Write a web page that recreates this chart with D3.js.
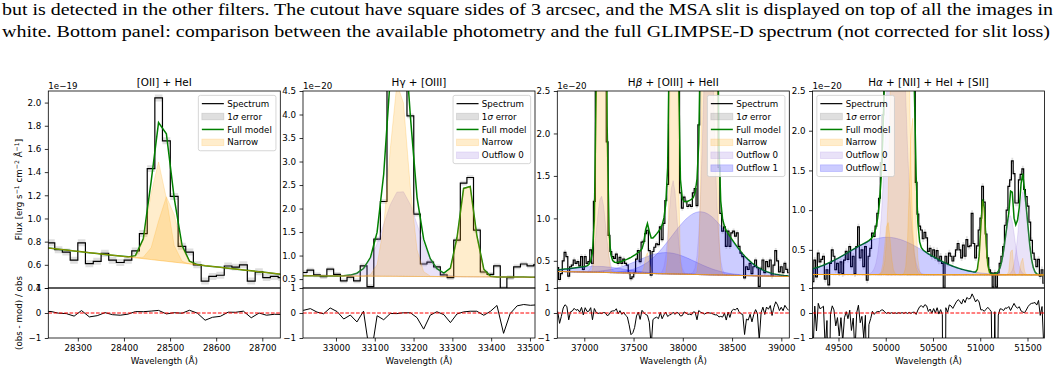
<!DOCTYPE html>
<html>
<head>
<meta charset="utf-8">
<script src="https://cdn.jsdelivr.net/npm/d3@7"></script>
<style>
  body { margin: 0; background: #fff; }
  svg { display: block; font-family: "DejaVu Sans", sans-serif; }
  .caption { font-family: "Liberation Serif", "Times New Roman", serif; font-size: 16.5px; }
</style>
</head>
<body>
<script>
// ---- caption above the figure
var captionLines = [
    "but is detected in the other filters. The cutout have square sides of 3 arcsec, and the MSA slit is displayed on top of all the images in",
    "white. Bottom panel: comparison between the available photometry and the full GLIMPSE-D spectrum (not corrected for slit loss)"
];

// ---- [OII] + HeI  (flux in 1e-19)
var oiiWave = [28225, 28242, 28258, 28275, 28292, 28308, 28325, 28342, 28359, 28375, 28392, 28409, 28425, 28442, 28459, 28475,
    28492, 28509, 28526, 28542, 28559, 28576, 28592, 28609, 28626, 28642, 28659, 28676, 28693, 28709, 28726, 28743];
var oiiFlux = [0.80, 0.79, 0.73, 0.71, 0.64, 0.79, 0.61, 0.63, 0.70, 0.64, 0.62, 0.64, 0.72, 0.87, 1.43, 2.04,
    1.67, 1.19, 0.76, 0.71, 0.60, 0.46, 0.50, 0.51, 0.59, 0.58, 0.60, 0.46, 0.54, 0.49, 0.50, 0.49];
var oiiCont = [[28236, 0.745], [28739, 0.52]];
var oiiNarrow = [[28475, 0.85, 18], [28494, 0.56, 19]];     // [centre, peak, sigma]
var oiiRange = [28236, 28739];
var oiiFluxRange = [0.4, 2.1];
var oiiFluxTicks = [0.4, 0.6, 0.8, 1.0, 1.2, 1.4, 1.6, 1.8, 2.0];
var oiiWaveTicks = [28300, 28400, 28500, 28600, 28700];

// ---- Hgamma + [OIII]  (flux in 1e-20)
var hgWave = [32900, 32917, 32934, 32951, 32968, 32985, 33003, 33020, 33037, 33054, 33071, 33089, 33106, 33123, 33140, 33157,
    33174, 33192, 33209, 33226, 33243, 33260, 33278, 33295, 33312, 33329, 33346, 33363, 33381, 33398, 33415, 33432,
    33449, 33467, 33484, 33501, 33518];
var hgFlux = [0.62, 0.64, 0.69, 0.59, 0.55, 0.71, 0.60, 0.46, 0.54, 0.46, 0.78, 0.34, 1.35, 2.15, 4.7, 6.3,
    6.1, 3.97, 1.88, 0.82, 0.86, 0.76, 0.59, 0.53, 1.33, 2.54, 2.66, 1.54, 0.65, 0.60, 0.78, 0.30,
    0.53, 0.76, 0.82, 0.78, 0.80];
var hgCont = [[32915, 0.57], [33513, 0.54]];
var hgNarrow = [[33162, 4.2, 23.5], [33338, 2.1, 19]];
var hgOutflow0 = [[33166, 1.83, 43]];
var hgRange = [32915, 33513];
var hgFluxRange = [0.31, 4.5];
var hgFluxTicks = [0.5, 1.0, 1.5, 2.0, 2.5, 3.0, 3.5, 4.0, 4.5];
var hgWaveTicks = [33000, 33100, 33200, 33300, 33400, 33500];

// ---- Hbeta + [OIII] + HeII  (flux in 1e-20)
var hbWave = [36730, 36749, 36767, 36786, 36804, 36823, 36842, 36860, 36879, 36897, 36916, 36935, 36953, 36972, 36990, 37009,
    37028, 37046, 37065, 37083, 37102, 37121, 37139, 37158, 37176, 37195, 37214, 37232, 37251, 37269, 37288, 37307,
    37325, 37344, 37362, 37381, 37400, 37418, 37437, 37455, 37474, 37493, 37511, 37530, 37548, 37567, 37586, 37604,
    37623, 37641, 37660, 37679, 37697, 37716, 37734, 37753, 37772, 37790, 37809, 37827, 37846, 37865, 37883, 37902,
    37920, 37939, 37958, 37976, 37995, 38013, 38032, 38051, 38069, 38088, 38106, 38125, 38144, 38162, 38181, 38199,
    38218, 38237, 38255, 38274, 38292, 38311, 38330, 38348, 38367, 38385, 38404, 38423, 38441, 38460, 38478, 38497,
    38516, 38534, 38553, 38571, 38590, 38609, 38627, 38646, 38664, 38683, 38702, 38720, 38739, 38757, 38776, 38795,
    38813, 38832, 38850, 38869, 38888, 38906, 38925, 38943, 38962, 38981, 38999, 39018, 39036, 39055, 39074];
var hbFlux = [0.42, 0.28, 0.35, 0.50, 0.60, 0.55, 0.32, 0.43, 0.45, 0.51, 0.47, 0.49, 0.44, 0.55, 0.40, 0.55,
    0.47, 0.49, 0.63, 0.47, 1.2, 2.6, 6.4, 12.6, 15.0, 11.9, 5.6, 1.9, 0.80, 0.61, 0.55, 0.53,
    0.58, 0.47, 0.54, 0.47, 0.52, 0.47, 0.45, 0.36, 0.29, 0.31, 0.36, 0.52, 0.62, 0.49, 0.72, 0.73,
    0.82, 0.86, 0.62, 0.33, 0.61, 0.66, 0.70, 0.69, 0.90, 0.75, 0.94, 1.21, 1.40, 3.0, 7.3, 13.8,
    12.2, 7.0, 2.6, 1.3, 1.12, 1.25, 1.20, 1.14, 1.16, 1.14, 1.30, 1.35, 1.15, 2.1, 3.4, 7.0,
    15, 29, 42, 44, 35, 20, 9, 3.8, 1.6, 1.06, 0.85, 0.90, 0.67, 0.85, 0.67, 0.83,
    0.85, 0.79, 0.83, 0.67, 0.59, 0.55, 0.30, 0.43, 0.40, 0.47, 0.35, 0.43, 0.51, 0.42, 0.20, 0.41,
    0.51, 0.36, 0.49, 0.43, 0.51, 0.32, 0.45, 0.62, 0.50, 0.37, 0.43, 0.36, 0.47, 0.40, 0.36];
var hbCont = [[36726, 0.375], [39081, 0.315]];
var hbNarrow = [[37175, 14, 26], [37637, 0.25, 20], [37910, 12, 22], [38269, 40, 33]];
var hbOutflow0 = [[37172, 0.9, 45], [37900, 1.1, 40], [38262, 3.5, 50]];
var hbOutflow1 = [[37150, 0.07, 260], [37835, 0.25, 290], [38180, 0.74, 290]];
var hbRange = [36726, 39081];
var hbFluxRange = [0.18, 2.5];
var hbFluxTicks = [0.5, 1.0, 1.5, 2.0, 2.5];
var hbWaveTicks = [37000, 37500, 38000, 38500, 39000];

// ---- Halpha + [NII] + HeI + [SII]  (flux in 1e-20)
var haWave = [49230, 49249, 49267, 49286, 49304, 49323, 49341, 49360, 49378, 49397, 49415, 49434, 49452, 49471, 49489, 49508,
    49526, 49545, 49563, 49582, 49600, 49619, 49637, 49656, 49674, 49693, 49711, 49730, 49748, 49767, 49785, 49804,
    49822, 49841, 49859, 49878, 49896, 49915, 49933, 49952, 49970, 49989, 50007, 50026, 50044, 50063, 50081, 50100,
    50118, 50137, 50155, 50174, 50192, 50211, 50229, 50248, 50266, 50285, 50303, 50322, 50340, 50359, 50377, 50396,
    50414, 50433, 50451, 50470, 50488, 50507, 50525, 50544, 50562, 50581, 50599, 50618, 50636, 50655, 50673, 50692,
    50710, 50729, 50747, 50766, 50784, 50803, 50821, 50840, 50858, 50877, 50895, 50914, 50932, 50951, 50969, 50988,
    51006, 51025, 51043, 51062, 51080, 51099, 51117, 51136, 51154, 51173, 51191, 51210, 51228, 51247, 51265, 51284,
    51302, 51321, 51339, 51358, 51376, 51395, 51413, 51432, 51450, 51469, 51487, 51506, 51524, 51543, 51561, 51580,
    51598, 51617, 51635, 51654, 51672];
var haFlux = [0.10, 0.37, 0.16, 0.46, 0.35, 0.38, 0.42, 0.13, 0.25, 0.06, 0.33, 0.50, 0.42, 0.25, 0.33, 0.21,
    0.35, 0.20, 0.37, 0.48, 0.38, 0.54, 0.29, 0.42, 0.20, 0.54, 0.79, 0.40, 0.50, 0.29, 0.54, 0.12,
    0.42, 0.52, 0.71, 0.67, 0.80, 0.96, 1.15, 1.60, 2.2, 2.9, 3.8, 5.3, 6.6, 9.0, 11.4, 14.8,
    17.1, 19.2, 18.6, 17.2, 13.7, 10.6, 7.3, 5.6, 4.4, 3.7, 2.6, 1.35, 0.95, 0.80, 0.75, 0.64,
    0.72, 0.65, 0.48, 0.52, 0.42, 0.50, 0.40, 0.49, 0.36, 0.42, 0.33, 0.02, 0.42, 0.33, 0.46, 0.42,
    0.36, 0.42, 0.50, 0.58, 0.50, 0.40, 0.56, 0.42, 0.63, 0.54, 0.55, 0.96, 0.58, 0.40, 0.55, 0.75,
    0.90, 1.30, 1.10, 0.70, 0.40, 0.25, 0.21, 0.03, 0.21, 0.03, 0.21, 0.33, 0.42, 0.54, 0.81, 1.00,
    1.30, 1.38, 1.62, 1.46, 1.09, 1.09, 1.38, 1.45, 1.52, 1.26, 1.17, 1.05, 0.85, 0.62, 0.46, 0.38,
    0.29, 0.38, 0.17, 0.25, 0.08];
var haCont = [[49225, 0.19], [51680, 0.185]];
var haNarrow = [[50020, 0.67, 28], [50150, 14, 54], [50280, 2.0, 28], [51030, 0.95, 24], [51331, 0.37, 14], [51444, 0.23, 14]];
var haOutflow0 = [[50110, 5.0, 80], [51315, 0.75, 50], [51455, 1.05, 48]];
var haOutflow1 = [[50015, 0.47, 404]];
var haRange = [49225, 51680];
var haFluxRange = [0.02, 2.5];
var haFluxTicks = [0.5, 1.0, 1.5, 2.0, 2.5];
var haWaveTicks = [49500, 50000, 50500, 51000, 51500];

var errorLevels = [0.03, 0.05, 0.03, 0.04];
var residTicks = [-1, 0, 1];

// ---- layout
var width = 1056, height = 373;
var panelLeft = [48.3, 303, 557.3, 812.5], panelW = 232;
var yTop = 91, yMid = 288, yBot = 338;
var fs = 8.7;

var svg = d3.select("body").append("svg").attr("width", width).attr("height", height);
var defs = svg.append("defs");

svg.selectAll("text.caption")
    .data(captionLines)
    .enter().append("text")
    .attr("class", "caption")
    .attr("x", 2)
    .attr("y", function(d, i) { return 15 + i * 21.5; })
    .attr("textLength", function(d, i) { return i === 0 ? 1051 : 1048; })
    .attr("lengthAdjust", "spacingAndGlyphs")
    .text(function(d) { return d; });

var panels = [
    { title: [["[OII] + HeI"]], scale: "1e\u221219", wave: oiiWave, flux: oiiFlux, cont: oiiCont,
      narrow: oiiNarrow, out0: [], out1: [], range: oiiRange, fluxRange: oiiFluxRange,
      fluxTicks: oiiFluxTicks, waveTicks: oiiWaveTicks, legendLeft: false },
    { title: [["H\u03b3 + [OIII]"]], scale: "1e\u221220", wave: hgWave, flux: hgFlux, cont: hgCont,
      narrow: hgNarrow, out0: hgOutflow0, out1: [], range: hgRange, fluxRange: hgFluxRange,
      fluxTicks: hgFluxTicks, waveTicks: hgWaveTicks, legendLeft: false },
    { title: [["H"], ["\u03b2", true], [" + [OIII] + HeII"]], scale: "1e\u221220", wave: hbWave, flux: hbFlux, cont: hbCont,
      narrow: hbNarrow, out0: hbOutflow0, out1: hbOutflow1, range: hbRange, fluxRange: hbFluxRange,
      fluxTicks: hbFluxTicks, waveTicks: hbWaveTicks, legendLeft: false },
    { title: [["H"], ["\u03b1", true], [" + [NII] + HeI + [SII]"]], scale: "1e\u221220", wave: haWave, flux: haFlux, cont: haCont,
      narrow: haNarrow, out0: haOutflow0, out1: haOutflow1, range: haRange, fluxRange: haFluxRange,
      fluxTicks: haFluxTicks, waveTicks: haWaveTicks, legendLeft: true }
];

var compColors = { narrow: "orange", out0: "mediumpurple", out1: "blue" };

function gauss(l, c) {
    return c[1] * Math.exp(-(l - c[0]) * (l - c[0]) / (2 * c[2] * c[2]));
}

function styleAxis(g) {
    g.select(".domain").remove();
    g.selectAll("line").attr("stroke", "black").attr("stroke-width", 0.8);
    g.selectAll("text").attr("font-size", fs).attr("font-family", "DejaVu Sans").attr("fill", "black");
}

function drawLegend(g, x, y, items) {
    var rowH = 12.9, w = 77.6;
    var h = 8.3 + rowH * (items.length - 1) + 8.4;
    g.append("rect")
        .attr("x", x).attr("y", y).attr("width", w).attr("height", h).attr("rx", 2)
        .attr("fill", "white").attr("fill-opacity", 0.8)
        .attr("stroke", "#cccccc").attr("stroke-width", 0.8);
    items.forEach(function(it, i) {
        var cy = y + 8.3 + i * rowH;
        if (it.kind === "line") {
            g.append("line")
                .attr("x1", x + 3.5).attr("x2", x + 25.5).attr("y1", cy).attr("y2", cy)
                .attr("stroke", it.color).attr("stroke-width", it.lw);
        } else {
            g.append("rect")
                .attr("x", x + 3.5).attr("y", cy - 3.3).attr("width", 22).attr("height", 6.6)
                .attr("fill", it.color).attr("fill-opacity", it.op)
                .attr("stroke", it.color).attr("stroke-opacity", it.op).attr("stroke-width", 0.8);
        }
        var t = g.append("text").attr("x", x + 28.8).attr("y", cy + 3.1).attr("font-size", fs);
        it.label.forEach(function(s) {
            t.append("tspan").attr("font-style", s[1] ? "italic" : null).text(s[0]);
        });
    });
}

panels.forEach(function(p, i) {
    var x0 = panelLeft[i], x1 = x0 + panelW;
    var x = d3.scaleLinear().domain(p.range).range([x0, x1]);
    var y = d3.scaleLinear().domain(p.fluxRange).range([yMid, yTop]);
    var yr = d3.scaleLinear().domain([-1, 1]).range([yBot, yMid]);
    var cont = d3.scaleLinear().domain(p.cont.map(function(c) { return c[0]; }))
        .range(p.cont.map(function(c) { return c[1]; }));
    var comps = p.narrow.concat(p.out0, p.out1);
    var err = errorLevels[i];

    var pts = p.wave.map(function(l, j) {
        var m = cont(l) + d3.sum(comps, function(c) { return gauss(l, c); });
        var f = p.flux[j];
        return { l: l, f: f, m: m, r: (f - m) / f };
    });

    defs.append("clipPath").attr("id", "clipTop" + i)
        .append("rect").attr("x", x0).attr("y", yTop).attr("width", panelW).attr("height", yMid - yTop);
    defs.append("clipPath").attr("id", "clipBot" + i)
        .append("rect").attr("x", x0).attr("y", yMid).attr("width", panelW).attr("height", yBot - yMid);

    // ---- top panel: spectrum, error, model and components
    var gTop = svg.append("g").attr("clip-path", "url(#clipTop" + i + ")");

    gTop.append("path").datum(pts)
        .attr("d", d3.area().curve(d3.curveStep)
            .x(function(d) { return x(d.l); })
            .y0(function(d) { return y(d.f - err); })
            .y1(function(d) { return y(d.f + err); }))
        .attr("fill", "#808080").attr("fill-opacity", 0.25);

    gTop.append("path").datum(pts)
        .attr("d", d3.line().curve(d3.curveStep)
            .x(function(d) { return x(d.l); })
            .y(function(d) { return y(d.f); }))
        .attr("fill", "none").attr("stroke", "black").attr("stroke-width", 1.2);

    gTop.append("path").datum(pts)
        .attr("d", d3.line()
            .x(function(d) { return x(d.l); })
            .y(function(d) { return y(d.m); }))
        .attr("fill", "none").attr("stroke", "#008000").attr("stroke-width", 1.5);

    // broad components first so the narrow edges sit on top of the continuum
    ["out1", "out0", "narrow"].forEach(function(kind) {
        var col = compColors[kind];
        p[kind].forEach(function(c) {
            gTop.append("path").datum(p.wave)
                .attr("d", d3.area()
                    .x(function(l) { return x(l); })
                    .y0(function(l) { return y(cont(l)); })
                    .y1(function(l) { return y(cont(l) + gauss(l, c)); }))
                .attr("fill", col).attr("fill-opacity", 0.2)
                .attr("stroke", col).attr("stroke-opacity", 0.2).attr("stroke-width", 1);
        });
    });

    // ---- bottom panel: residuals
    var gBot = svg.append("g").attr("clip-path", "url(#clipBot" + i + ")");
    gBot.append("path").datum(pts)
        .attr("d", d3.line()
            .x(function(d) { return x(d.l); })
            .y(function(d) { return yr(d.r); }))
        .attr("fill", "none").attr("stroke", "black").attr("stroke-width", 1);
    gBot.append("line")
        .attr("x1", x0).attr("x2", x1).attr("y1", yr(0)).attr("y2", yr(0))
        .attr("stroke", "red").attr("stroke-width", 1).attr("stroke-dasharray", "3.7,1.6");

    // ---- axes
    svg.append("g").attr("transform", "translate(" + x0 + ",0)")
        .call(d3.axisLeft(y).tickValues(p.fluxTicks).tickFormat(d3.format(".1f")).tickSize(3.5).tickPadding(3.5))
        .call(styleAxis);
    svg.append("g").attr("transform", "translate(" + x0 + ",0)")
        .call(d3.axisLeft(yr).tickValues(residTicks).tickFormat(d3.format("d")).tickSize(3.5).tickPadding(3.5))
        .call(styleAxis);
    svg.append("g").attr("transform", "translate(0," + yBot + ")")
        .call(d3.axisBottom(x).tickValues(p.waveTicks).tickFormat(d3.format("d")).tickSize(3.5).tickPadding(3.5))
        .call(styleAxis);

    // frames
    [[yTop, yMid], [yMid, yBot]].forEach(function(r) {
        svg.append("rect")
            .attr("x", x0).attr("y", r[0]).attr("width", panelW).attr("height", r[1] - r[0])
            .attr("fill", "none").attr("stroke", "black").attr("stroke-width", 0.8);
    });

    // title, offset text, x label
    var t = svg.append("text").attr("x", (x0 + x1) / 2).attr("y", 86)
        .attr("text-anchor", "middle").attr("font-size", 10.4);
    p.title.forEach(function(s) {
        t.append("tspan").attr("font-style", s[1] ? "italic" : null).text(s[0]);
    });
    svg.append("text").attr("x", x0).attr("y", 88.5).attr("font-size", fs).text(p.scale);
    svg.append("text").attr("x", (x0 + x1) / 2).attr("y", 364)
        .attr("text-anchor", "middle").attr("font-size", fs).text("Wavelength (\u00c5)");

    // legend
    var items = [
        { kind: "line", color: "black", lw: 1.2, label: [["Spectrum"]] },
        { kind: "patch", color: "#808080", op: 0.25, label: [["1"], ["\u03c3", true], [" error"]] },
        { kind: "line", color: "#008000", lw: 1.5, label: [["Full model"]] },
        { kind: "patch", color: "orange", op: 0.2, label: [["Narrow"]] }
    ];
    if (p.out0.length) items.push({ kind: "patch", color: "mediumpurple", op: 0.2, label: [["Outflow 0"]] });
    if (p.out1.length) items.push({ kind: "patch", color: "blue", op: 0.2, label: [["Outflow 1"]] });
    var lx = p.legendLeft ? x0 + 4.35 : x1 - 4.35 - 77.6;
    drawLegend(svg.append("g"), lx, yTop + 4.35, items);
});

// y labels
var yl = svg.append("text")
    .attr("transform", "translate(22," + ((yTop + yMid) / 2) + ") rotate(-90)")
    .attr("text-anchor", "middle").attr("font-size", fs);
[["Flux [erg s", 0], ["\u22121", -3], [" cm", 3], ["\u22122", -3], [" \u00c5", 3], ["\u22121", -3], ["]", 3]]
    .forEach(function(s, k) {
        yl.append("tspan").attr("dy", s[1]).attr("font-size", k % 2 ? 6.2 : fs).text(s[0]);
    });

svg.append("text")
    .attr("transform", "translate(22," + ((yMid + yBot) / 2) + ") rotate(-90)")
    .attr("text-anchor", "middle").attr("font-size", fs)
    .text("(obs - mod) / obs");
</script>
</body>
</html>
